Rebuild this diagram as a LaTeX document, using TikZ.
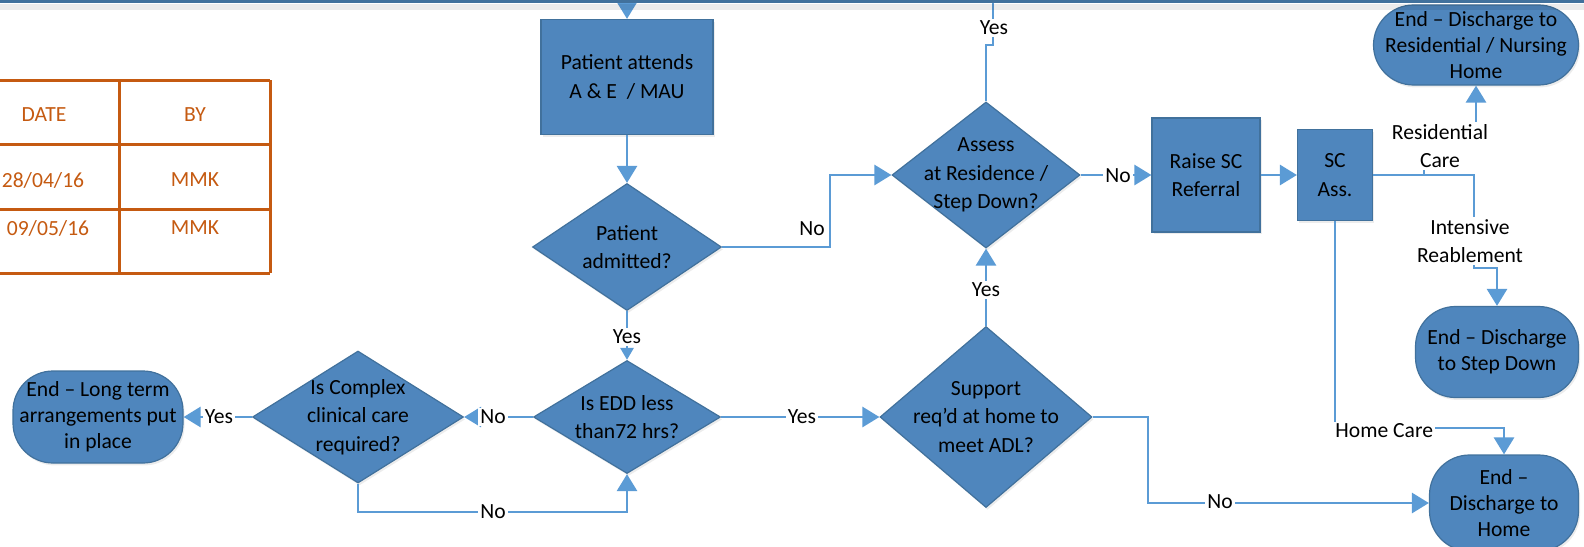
\documentclass[tikz,border=0pt]{standalone}
\usepackage{fontspec}
\setmainfont{Carlito}
\usetikzlibrary{shapes.geometric,arrows.meta,shadows}
\definecolor{boxblue}{HTML}{4F86BD}
\definecolor{boxline}{HTML}{41719C}
\definecolor{flowblue}{HTML}{5B9BD5}
\definecolor{tabline}{HTML}{C55A11}
\begin{document}
\begin{tikzpicture}[x=0.5pt, y=-0.5pt, font=\fontsize{10.8}{14.2}\selectfont,
  base/.style={draw=boxline, fill=boxblue, line width=0.6pt, drop shadow={opacity=0.15, shadow xshift=0.8pt, shadow yshift=-1.2pt}},
  proc/.style={base, rectangle, align=center, inner sep=1pt},
  dec/.style={base, diamond, inner sep=0pt},
  term/.style={base, rectangle, rounded corners=20pt, align=center, inner sep=0pt, font=\fontsize{10.8}{12.9}\selectfont},
  txt/.style={align=center},
  flow/.style={draw=flowblue, line width=1.4pt, -{Triangle[length=8.5pt, width=10pt]}},
  smalltip/.style={-{Triangle[length=6pt, width=6.5pt]}},
  link/.style={draw=flowblue, line width=1.4pt},
  lab/.style={fill=white, inner sep=1pt, align=center},
  tab/.style={draw=tabline, line width=1.5pt},
  tabtxt/.style={text=tabline}]
  \useasboundingbox (0,0) rectangle (1584,546);
  \foreach \y in {80,144,209,273} \draw[tab] (0,\y) -- (270,\y);
  \foreach \x in {119,270} \draw[tab] (\x,80) -- (\x,273);
  \node[tabtxt] (date) at (44,115) {DATE};
  \node[tabtxt] (by) at (195,115) {BY};
  \node[tabtxt] (date1) at (43,180) {28/04/16};
  \node[tabtxt] (by1) at (195,180) {MMK};
  \node[tabtxt] (date2) at (48,228) {09/05/16};
  \node[tabtxt] (by2) at (195,228) {MMK};
  \node[proc, minimum width=86pt, minimum height=57.5pt] (attend) at (627,77) {Patient attends\\A \& E \ / MAU};
  \node[dec, minimum width=94.5pt, minimum height=63.5pt, label={[txt]center:Patient\\admitted?}] (admit) at (627,247) {};
  \node[dec, minimum width=94pt, minimum height=73pt, label={[txt]center:Assess\\at Residence /\\Step Down?}] (assess) at (986,175) {};
  \node[proc, minimum width=54pt, minimum height=57pt] (raise) at (1206,175) {Raise SC\\Referral};
  \node[proc, minimum width=37.5pt, minimum height=45.5pt] (scass) at (1335,175) {SC\\Ass.};
  \node[term, minimum width=102.5pt, minimum height=40pt] (endres) at (1476,45) {End – Discharge to\\Residential / Nursing\\Home};
  \node[term, minimum width=81.5pt, minimum height=45.5pt] (endstep) at (1497,352) {End – Discharge\\to Step Down};
  \node[term, minimum width=74.5pt, minimum height=48pt] (endhome) at (1504,503) {End –\\Discharge to\\Home};
  \node[dec, minimum width=93.5pt, minimum height=56.5pt, label={[txt]center:Is EDD less\\than72 hrs?}] (edd) at (627,417) {};
  \node[dec, minimum width=105.5pt, minimum height=66pt, label={[txt]center:Is Complex\\clinical care\\required?}] (complex) at (358,417) {};
  \node[term, minimum width=85pt, minimum height=46pt] (endlong) at (98,417) {End – Long term\\arrangements put\\in place};
  \node[dec, minimum width=106pt, minimum height=90.5pt, label={[txt]center:Support\\req’d at home to\\meet ADL?}] (support) at (986,417) {};
  \coordinate (top1) at (627,0);
  \coordinate (top2) at (993,0);
  \coordinate (rc) at (1424,175);
  \draw[flow] (top1) -- (attend);
  \draw[flow] (attend) -- (admit);
  \draw[flow] (admit.east) -- (830,247) |- (assess.west);
  \node (no1) at (812,229) {No};
  \draw[link] (assess.north) |- (993,45) -- (top2);
  \node[lab] (yes1) at (994,28) {Yes};
  \draw[flow] (assess) -- (raise);
  \node[lab] (no2) at (1118,176) {No};
  \draw[flow] (raise) -- (scass);
  \draw[flow] (scass.east) -| (1474,268) -| (endstep.north);
  \node[lab] (reab) at (1470,241) {Intensive\\Reablement};
  \draw[flow] (rc) -- (1424,130) -| (endres.south);
  \node[lab] (rescare) at (1440,146) {Residential\\Care};
  \draw[flow] (scass.south) -- (1335,428) -| (endhome.north);
  \node[lab, anchor=west] (homecare) at (1333,431) {Home Care};
  \draw[flow, smalltip] (admit) -- (edd);
  \node[lab] (yes2) at (627,337) {Yes};
  \draw[flow] (edd) -- (complex);
  \node[lab] (no3) at (493,417) {No};
  \draw[flow] (complex) -- (endlong);
  \node[lab] (yes3) at (219,417) {Yes};
  \draw[flow] (complex.south) -- (358,512) -| (edd.south);
  \node[lab] (no4) at (493,512) {No};
  \draw[flow] (edd) -- (support);
  \node[lab] (yes4) at (802,417) {Yes};
  \draw[flow] (support) -- (assess);
  \node[lab] (yes5) at (986,290) {Yes};
  \draw[flow] (support.east) -- (1148,417) |- (endhome.west);
  \node[lab] (no5) at (1220,502) {No};
  \draw[draw=black, opacity=0.08, line width=3pt] (0,7) -- (1584,7);
  \draw[draw=boxline, line width=1.5pt] (0,1) -- (1584,1);
\end{tikzpicture}
\end{document}
